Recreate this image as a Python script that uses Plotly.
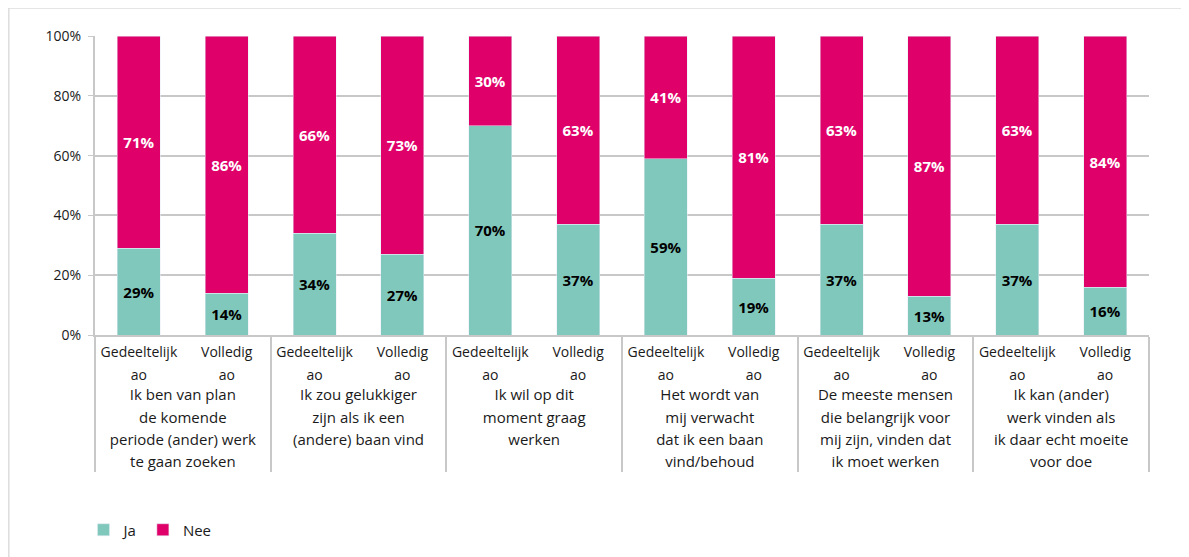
import plotly.graph_objects as go

statements = [
    ["Ik ben van plan", "de komende", "periode (ander) werk", "te gaan zoeken"],
    ["Ik zou gelukkiger", "zijn als ik een", "(andere) baan vind"],
    ["Ik wil op dit", "moment graag", "werken"],
    ["Het wordt van", "mij verwacht", "dat ik een baan", "vind/behoud"],
    ["De meeste mensen", "die belangrijk voor", "mij zijn, vinden dat", "ik moet werken"],
    ["Ik kan (ander)", "werk vinden als", "ik daar echt moeite", "voor doe"],
]
groups = [["Gedeeltelijk", "ao"], ["Volledig", "ao"]]
ja = [29, 14, 34, 27, 70, 37, 59, 19, 37, 13, 37, 16]
nee = [71, 86, 66, 73, 30, 63, 41, 81, 63, 87, 63, 84]
y_ticks = [0, 20, 40, 60, 80, 100]
y_ticklabels = ["0%", "20%", "40%", "60%", "80%", "100%"]


def styled(lines, size):
    return "<br>".join(f"<span style='font-size:{size}px'>{ln}</span>" for ln in lines)


outer = [styled(s, 15) for s in statements for _ in groups]
inner = [styled(g, 14) for _ in statements for g in groups]

TEAL = "#80C8BC"
MAGENTA = "#E0006A"
FONT = "Open Sans"

fig = go.Figure()
fig.add_trace(go.Bar(
    name="Ja", x=[outer, inner], y=ja, marker_color=TEAL,
    text=[f"{v}%" for v in ja], textposition="inside", insidetextanchor="middle",
    textfont=dict(color="black", size=15, family=FONT, weight="bold"),
    textangle=0,
))
fig.add_trace(go.Bar(
    name="Nee", x=[outer, inner], y=nee, marker_color=MAGENTA,
    text=[f"{v}%" for v in nee], textposition="inside", insidetextanchor="middle",
    textfont=dict(color="white", size=15, family=FONT, weight="bold"),
    textangle=0,
))

W, H = 1181, 549
L, R, T, B = 87, 40, 28, 222
pw, ph = W - L - R, H - T - B


def px(x):
    return (x - L) / pw


def py(y):
    return (H - B - y) / ph


fig.add_shape(type="rect", xref="paper", yref="paper",
              x0=px(0.8), x1=px(1179), y0=py(700), y1=py(0),
              line=dict(color="#DDDDDD", width=1.5), fillcolor="rgba(0,0,0,0)", layer="below")

fig.update_layout(
    width=W, height=H,
    margin=dict(l=L, r=R, t=T, b=B, autoexpand=False),
    barmode="stack", bargap=0.51,
    plot_bgcolor="white", paper_bgcolor="white",
    font=dict(family=FONT, color="#1a1a1a", size=13),
    showlegend=True,
    legend=dict(orientation="h", x=px(75.5), y=py(522), xanchor="left", yanchor="middle",
                font=dict(size=15, family=FONT), traceorder="normal"),
    uniformtext=dict(minsize=15, mode="show"),
)
fig.update_xaxes(
    type="multicategory", automargin=False,
    showline=True, linecolor="#C8C8C8", linewidth=2,
    showdividers=True, dividercolor="#C8C8C8", dividerwidth=2,
    tickfont=dict(size=17, family=FONT),
    ticks="",
)
fig.update_yaxes(
    range=[0, 100], tickvals=y_ticks, ticktext=y_ticklabels,
    showgrid=True, gridcolor="#C8C8C8", gridwidth=1.5,
    showline=True, linecolor="#C8C8C8", linewidth=2,
    ticks="outside", ticklen=5, tickcolor="#C8C8C8", ticklabelstandoff=4,
    tickfont=dict(size=14, family=FONT), zeroline=False, automargin=False,
)

fig.write_html("out.html")
